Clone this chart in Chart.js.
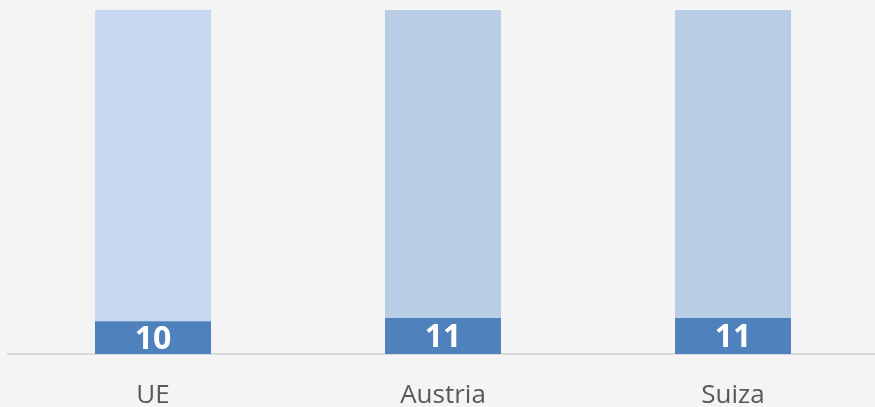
<!DOCTYPE html>
<html>
<head>
<meta charset="utf-8">
<script src="https://cdn.jsdelivr.net/npm/chart.js@4/dist/chart.umd.min.js"></script>
<style>
  html, body { margin: 0; padding: 0; background: #f4f4f4; overflow: hidden; }
  #wrap { width: 885px; height: 407px; position: relative; }
</style>
</head>
<body>
<div id="wrap"><canvas id="c" width="885" height="407"></canvas></div>
<script>
const categories = ["UE", "Austria", "Suiza"];
const darkValues = [9.5, 10.5, 10.5];
const restValues = [90.5, 89.5, 89.5];
const darkLabels = ["10", "11", "11"];
const lightColors = ["#c6d9f1", "#b9cde5", "#b9cde5"];

const labelPlugin = {
  id: "barLabels",
  afterDatasetsDraw(chart) {
    const ctx = chart.ctx;
    const meta = chart.getDatasetMeta(0);
    ctx.save();
    ctx.fillStyle = "#ffffff";
    ctx.font = "bold 32px 'Open Sans'";
    ctx.textAlign = "center";
    ctx.textBaseline = "alphabetic";
    meta.data.forEach((bar, i) => {
      const cy = (bar.y + bar.base) / 2;
      ctx.fillText(darkLabels[i], bar.x, cy + 11.5);
    });
    ctx.restore();
  }
};

new Chart(document.getElementById("c"), {
  type: "bar",
  data: {
    labels: categories,
    datasets: [
      { data: darkValues, backgroundColor: "#4f81bd", barPercentage: 0.4, categoryPercentage: 1 },
      { data: restValues, backgroundColor: lightColors, barPercentage: 0.4, categoryPercentage: 1 }
    ]
  },
  options: {
    responsive: false,
    animation: false,
    devicePixelRatio: 1,
    layout: { padding: { left: 8, right: 7, top: 10, bottom: 0 } },
    plugins: { legend: { display: false }, tooltip: { enabled: false } },
    scales: {
      x: {
        stacked: true,
        grid: { display: false, drawTicks: false },
        border: { display: true, color: "#d9d9d9", width: 2 },
        ticks: { color: "#595959", font: { family: "'Open Sans'", size: 26 }, padding: 26 },
        afterFit(scale) { scale.height = 53; }
      },
      y: {
        stacked: true,
        display: false,
        min: 0,
        max: 100
      }
    }
  },
  plugins: [labelPlugin]
});
</script>
</body>
</html>
